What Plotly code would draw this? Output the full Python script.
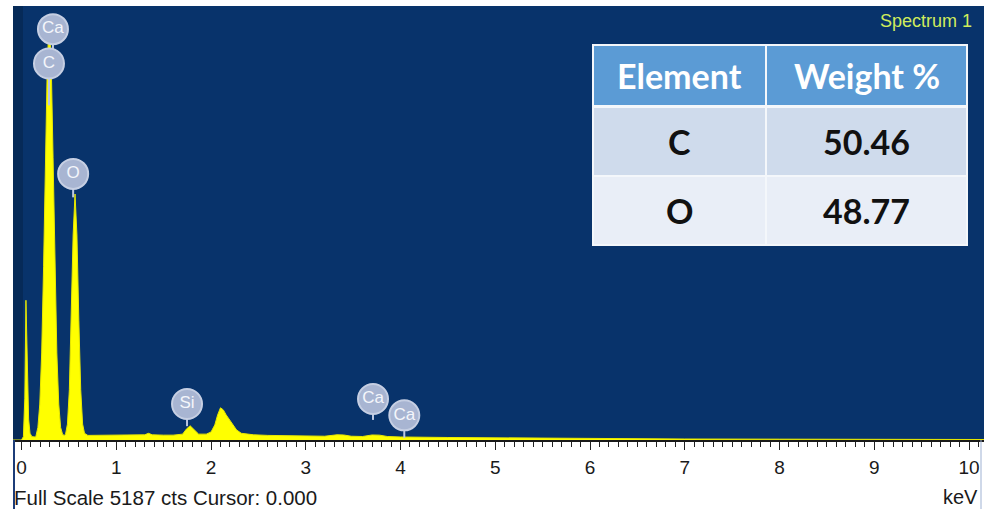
import plotly.graph_objects as go

# ---------------- data ----------------
energy_kev = [-0.09, 0.0, 0.02, 0.035, 0.047, 0.06, 0.075, 0.09, 0.11, 0.15,
              0.173, 0.193, 0.213, 0.233, 0.253, 0.273, 0.293, 0.313, 0.333, 0.353,
              0.373, 0.393, 0.413, 0.433, 0.45,
              0.465, 0.485, 0.505, 0.525, 0.545, 0.565, 0.585, 0.605, 0.625, 0.645,
              0.665, 0.70, 0.80, 0.90, 1.00, 1.10, 1.20, 1.30, 1.34, 1.38, 1.50,
              1.60, 1.70, 1.74, 1.78, 1.82, 1.87, 1.95, 2.00, 2.04, 2.07, 2.10,
              2.13, 2.16, 2.19, 2.23, 2.27, 2.32, 2.45, 2.60, 2.80, 3.00, 3.20,
              3.33, 3.40, 3.48, 3.60, 3.70, 3.78, 3.86, 4.00, 4.50, 5.00, 5.50,
              6.00, 7.00, 8.00, 9.00, 10.16]
counts = [0, 0, 40, 500, 1670, 900, 250, 80, 40, 35,
          150, 430, 1040, 2070, 3380, 4540, 5000, 4540, 3380, 2070,
          1040, 430, 150, 70, 55,
          70, 190, 600, 1430, 2450, 2940, 2450, 1430, 600, 190,
          80, 55, 55, 58, 58, 58, 60, 62, 80, 62, 58,
          58, 70, 130, 170, 125, 70, 70, 95, 180, 300, 385,
          360, 300, 250, 190, 120, 80, 62, 55, 50, 45, 45,
          62, 60, 45, 42, 60, 58, 42, 36, 30, 25, 20,
          17, 12, 10, 8, 6]

full_scale_cts = 5187
tick_values = [0, 1, 2, 3, 4, 5, 6, 7, 8, 9, 10]
tick_labels = ["0", "1", "2", "3", "4", "5", "6", "7", "8", "9", "10"]

# element badges: label, energy, badge height (cts), stem bottom (cts)
badge_labels = ["Ca", "C", "O", "Si", "Ca", "Ca"]
badge_energy = [0.332, 0.290, 0.545, 1.747, 3.71, 4.04]
badge_counts = [4910, 4500, 3180, 430, 490, 295]
badge_stem_bottom = [4500, 4000, 2900, 165, 240, 25]

table_header = ["Element", "Weight %"]
table_elements = ["C", "O"]
table_weights = ["50.46", "48.77"]

# ---------------- figure ----------------
W, H = 987, 509
ML, MR, MT, MB = 13, 3, 6, 69
PW, PH = W - ML - MR, H - MT - MB


def px(x):
    return (x - ML) / PW


def py(y):
    return (H - MB - y) / PH


NAVY = "#08336b"

fig = go.Figure()

fig.add_trace(go.Scatter(
    x=energy_kev, y=counts, mode="lines", fill="tozeroy",
    fillcolor="#ffff00", line=dict(color="#e8e800", width=1),
    hoverinfo="skip", showlegend=False))

stem_x, stem_y = [], []
for e, top, bot in zip(badge_energy, badge_counts, badge_stem_bottom):
    stem_x += [e, e, None]
    stem_y += [top, bot, None]
fig.add_trace(go.Scatter(
    x=stem_x, y=stem_y, mode="lines",
    line=dict(color="#bcc8e2", width=2), hoverinfo="skip", showlegend=False))

fig.add_trace(go.Scatter(
    x=badge_energy, y=badge_counts, mode="markers+text",
    marker=dict(size=30, color="#a8b5d2", line=dict(color="#c6cfe3", width=2)),
    text=badge_labels, textposition="middle center",
    textfont=dict(family="Liberation Sans, Arial", size=17, color="#f4f6fb"),
    hoverinfo="skip", showlegend=False))

shapes = []
# darker strip at left of plot
shapes.append(dict(type="rect", xref="paper", yref="paper", x0=0, x1=px(23),
                   y0=0, y1=1, fillcolor="#062a58", line=dict(width=0), layer="below"))
# border lines in the white band
shapes.append(dict(type="line", xref="paper", yref="paper", x0=px(14), x1=px(14),
                   y0=py(440), y1=py(509), line=dict(color="#1c3c78", width=2)))
shapes.append(dict(type="line", xref="paper", yref="paper", x0=px(981), x1=px(981),
                   y0=py(440), y1=py(509), line=dict(color="#9fb2d3", width=1)))

# table
shapes.append(dict(type="rect", xref="paper", yref="paper", x0=px(592), x1=px(968),
                   y0=py(246), y1=py(44), fillcolor="#f4f7fb", line=dict(width=0)))
col_edges = [(594, 765), (767, 966)]
row_edges = [(46, 105), (108, 175), (177, 244)]
row_colors = ["#5b9bd5", "#cfdbec", "#e9eef7"]
for (y0, y1), c in zip(row_edges, row_colors):
    for (x0, x1) in col_edges:
        shapes.append(dict(type="rect", xref="paper", yref="paper",
                           x0=px(x0), x1=px(x1), y0=py(y1), y1=py(y0),
                           fillcolor=c, line=dict(width=0)))

annotations = []
rows_text = [table_header] + [[e, w] for e, w in zip(table_elements, table_weights)]
for r, row in enumerate(rows_text):
    yc = (row_edges[r][0] + row_edges[r][1]) / 2
    for c, txt in enumerate(row):
        xc = (col_edges[c][0] + col_edges[c][1]) / 2
        annotations.append(dict(
            xref="paper", yref="paper", x=px(xc), y=py(yc), text=txt,
            showarrow=False, xanchor="center", yanchor="middle",
            font=dict(family="Lato, Open Sans", size=34, weight="bold",
                      color="white" if r == 0 else "#111111")))

annotations.append(dict(xref="paper", yref="paper", x=px(974), y=py(21),
                        text="Spectrum 1", showarrow=False, xanchor="right", yanchor="middle",
                        font=dict(family="Liberation Sans, Arial", size=18, color="#d0ec5c")))
annotations.append(dict(xref="paper", yref="paper", x=px(12), y=py(497),
                        text=f"Full Scale {full_scale_cts} cts Cursor: 0.000",
                        showarrow=False, xanchor="left", yanchor="middle",
                        font=dict(family="Liberation Sans, Arial", size=20.5, color="#1a1a1a")))
annotations.append(dict(xref="paper", yref="paper", x=px(980), y=py(497),
                        text="keV", showarrow=False, xanchor="right", yanchor="middle",
                        font=dict(family="Liberation Sans, Arial", size=20, color="#1a1a1a")))

x0_range = (ML - 21.5) / 94.75
x1_range = (W - MR - 21.5) / 94.75

fig.update_layout(
    width=W, height=H, margin=dict(l=ML, r=MR, t=MT, b=MB, pad=0),
    paper_bgcolor="white", plot_bgcolor=NAVY, showlegend=False,
    shapes=shapes, annotations=annotations,
    xaxis=dict(range=[x0_range, x1_range], tickmode="array",
               tickvals=tick_values, ticktext=tick_labels,
               ticks="outside", ticklen=8, tickwidth=1, tickcolor="#222222",
               minor=dict(dtick=0.1, tick0=0, ticks="outside", ticklen=5,
                          tickwidth=1, tickcolor="#222222", showgrid=False),
               showgrid=False, zeroline=False, showline=True,
               linecolor="#1a1a1a", linewidth=2,
               tickfont=dict(family="Liberation Sans, Arial", size=19, color="#1a1a1a"),
               ticklabelstandoff=1, fixedrange=True),
    yaxis=dict(range=[0, full_scale_cts], visible=False, showgrid=False,
               zeroline=False, fixedrange=True),
)

fig.write_html("out.html", config={"displayModeBar": False},
               post_script="document.body.style.margin='0';document.body.style.overflow='hidden';")
